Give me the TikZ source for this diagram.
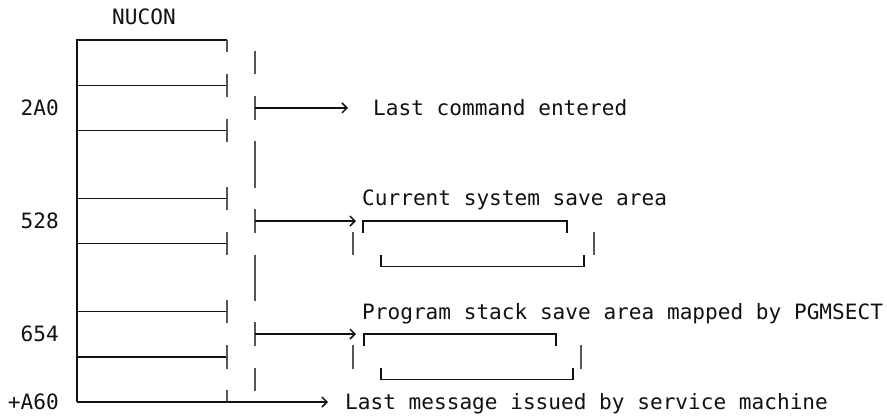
\documentclass[tikz,border=0pt]{standalone}
\usepackage{fontspec}
\setmonofont{DejaVu Sans Mono}
\usetikzlibrary{arrows.meta}
\definecolor{nuInk}{HTML}{111111}
\definecolor{nuBar}{HTML}{555555}

\begin{document}
\begin{tikzpicture}[x=1pt, y=-1pt,
  every node/.style={font=\ttfamily\fontsize{21.1}{21}\selectfont, inner sep=0pt, text=nuInk},
  hline/.style={nuInk, line width=1.5pt},
  vline/.style={nuBar, line width=2pt},
  ptr/.style={hline, -{Straight Barb[length=5pt,width=10pt]}}]
  \useasboundingbox (0,0) rectangle (887,418);
  % Text rows are 22.625 apart, row 0 at y=40
  \newcommand{\vbar}[2]{\draw[vline] (#1,#2-11.8) -- (#1,#2+11.8);}
  \newcommand{\slotline}[1]{\draw[hline] (77,#1) -- (227,#1);}
  % NUCON control block
  \node[anchor=base west] (nucon) at (112,24.9) {NUCON};
  \draw[hline] (77,402) -- (77,40) -- (227,40);
  \slotline{85.3}
  \slotline{130.5}
  \slotline{198.4}
  \slotline{243.6}
  \slotline{311.5}
  \slotline{356.8}
  % Right edge of the block
  \draw[vline] (227,40) -- (227,52);
  \vbar{227}{85.3}
  \vbar{227}{130.5}
  \vbar{227}{198.4}
  \vbar{227}{243.6}
  \vbar{227}{311.5}
  \vbar{227}{356.8}
  \draw[vline] (227,390) -- (227,402);
  % Pointer column
  \vbar{255}{62.6}
  \vbar{255}{107.9}
  \vbar{255}{153.1}
  \vbar{255}{175.8}
  \vbar{255}{221}
  \vbar{255}{266.3}
  \vbar{255}{288.9}
  \vbar{255}{334.1}
  \vbar{255}{379.4}
  % Offsets
  \node[anchor=base east] (offcmd) at (59,115.4) {2A0};
  \node[anchor=base east] (offsys) at (59,228.5) {528};
  \node[anchor=base east] (offpgm) at (59,341.6) {654};
  \node[anchor=base east] (offend) at (59,409.5) {+A60};
  % Targets
  \node[anchor=base west] (txtcmd) at (373,115.4) {Last command entered};
  \node[anchor=base west] (txtsys) at (362,205.9) {Current system save area};
  \node[anchor=base west] (txtpgm) at (362,319) {Program stack save area mapped by PGMSECT};
  \node[anchor=base west] (txtmsg) at (345,409.5) {Last message issued by service machine};
  % Save areas
  \draw[hline] (363,232.5) -- (363,221) -- (567,221) -- (567,232.5);
  \vbar{353}{243.6}
  \vbar{594}{243.6}
  \draw[hline] (381,254.5) -- (381,266.3) -- (584,266.3) -- (584,254.5);
  \draw[hline] (364,345.6) -- (364,334.1) -- (556,334.1) -- (556,345.6);
  \vbar{353}{356.8}
  \vbar{581}{356.8}
  \draw[hline] (381,368) -- (381,379.4) -- (573,379.4) -- (573,368);
  % Pointers
  \coordinate (cmdfrom) at (255,107.9);
  \coordinate (cmdto) at (348,107.9);
  \coordinate (sysfrom) at (255,221);
  \coordinate (systo) at (356,221);
  \coordinate (pgmfrom) at (255,334.1);
  \coordinate (pgmto) at (356,334.1);
  \coordinate (msgfrom) at (77,402);
  \coordinate (msgto) at (328,402);
  \draw[ptr] (cmdfrom) -- (cmdto);
  \draw[ptr] (sysfrom) -- (systo);
  \draw[ptr] (pgmfrom) -- (pgmto);
  \draw[ptr] (msgfrom) -- (msgto);
\end{tikzpicture}
\end{document}
